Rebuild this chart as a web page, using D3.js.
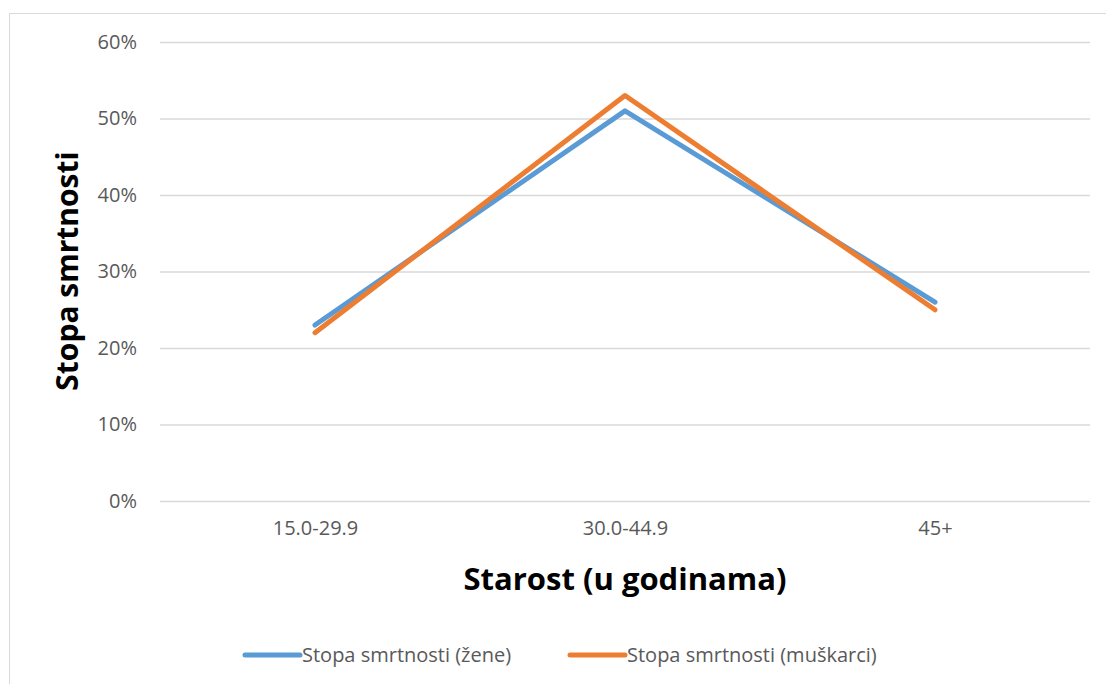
<!DOCTYPE html>
<html>
<head>
<meta charset="utf-8">
<script src="https://cdn.jsdelivr.net/npm/d3@7"></script>
<style>
  body { margin: 0; background: #fff; }
  svg { display: block; font-family: "Open Sans", sans-serif; }
  svg text { font-family: "Open Sans", sans-serif; }
</style>
</head>
<body>
<svg id="chart" width="1106" height="684"></svg>
<script>
// Data
const categories = ['15.0-29.9', '30.0-44.9', '45+']
const zene = [0.23, 0.51, 0.26]
const muskarci = [0.22, 0.53, 0.25]
const yTicks = [0, 0.1, 0.2, 0.3, 0.4, 0.5, 0.6]
const seriesNames = ['Stopa smrtnosti (žene)', 'Stopa smrtnosti (muškarci)']
const colors = ['#5B9BD5', '#ED7D31']

const svg = d3.select('#chart')
const margin = { top: 42, left: 160, right: 16, bottom: 183 }
const width = 1106 - margin.left - margin.right
const height = 684 - margin.top - margin.bottom

// chart border
svg.append('rect')
    .attr('x', 9.5).attr('y', 13.5)
    .attr('width', 1110).attr('height', 690)
    .attr('fill', 'none').attr('stroke', '#d9d9d9')

const x = d3.scalePoint().domain(categories).range([0, width]).padding(0.5)
const y = d3.scaleLinear().domain([0, 0.6]).range([height, 0])

const g = svg.append('g').attr('transform', `translate(${margin.left},${margin.top})`)

// grid + y labels
const yAxis = g.append('g')
    .call(d3.axisLeft(y).tickValues(yTicks).tickFormat(d3.format('.0%')).tickSize(-width).tickPadding(23))
    .attr('font-family', null).attr('font-size', null)
yAxis.select('.domain').remove()
yAxis.selectAll('.tick line').attr('stroke', '#d9d9d9').attr('stroke-width', 1.3)
yAxis.selectAll('.tick text').attr('fill', '#595959').style('font-size', '20px')

// x labels
const xAxis = g.append('g')
    .attr('transform', `translate(0,${height})`)
    .call(d3.axisBottom(x).tickSize(0).tickPadding(20))
    .attr('font-family', null).attr('font-size', null)
xAxis.select('.domain').remove()
xAxis.selectAll('.tick text').attr('fill', '#595959').style('font-size', '20px')

// lines
const line = d3.line()
    .x((d, i) => x(categories[i]))
    .y(d => y(d))

;[zene, muskarci].forEach((series, i) => {
    g.append('path')
        .datum(series)
        .attr('fill', 'none')
        .attr('stroke', colors[i])
        .attr('stroke-width', 5)
        .attr('stroke-linecap', 'round')
        .attr('stroke-linejoin', 'round')
        .attr('d', line)
})

// axis titles
svg.append('text')
    .attr('transform', 'translate(78,271) rotate(-90)')
    .attr('text-anchor', 'middle')
    .style('font-size', '30px').style('font-weight', 'bold')
    .text('Stopa smrtnosti')

svg.append('text')
    .attr('x', 625).attr('y', 590)
    .attr('text-anchor', 'middle')
    .style('font-size', '31px').style('font-weight', 'bold')
    .text('Starost (u godinama)')

// legend
const legendX = [245, 570]
seriesNames.forEach((name, i) => {
    const lg = svg.append('g').attr('transform', `translate(${legendX[i]},655)`)
    lg.append('line')
        .attr('x1', 0).attr('x2', 55)
        .attr('stroke', colors[i]).attr('stroke-width', 5).attr('stroke-linecap', 'round')
    lg.append('text')
        .attr('x', 57).attr('dy', '0.35em')
        .attr('fill', '#595959').style('font-size', '20px')
        .text(name)
})
</script>
</body>
</html>
